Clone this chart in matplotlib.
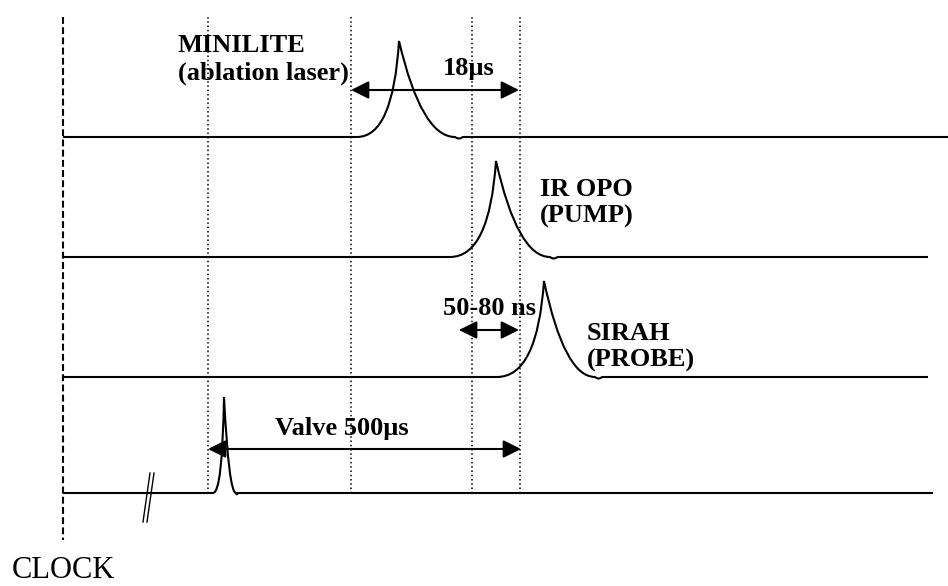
import matplotlib
matplotlib.use("Agg")
import matplotlib.pyplot as plt
from matplotlib.path import Path
from matplotlib.patches import PathPatch

# canvas is laid out in pixel units of the reference (948 x 586)
W, H = 948, 586

CHANNELS = ["MINILITE", "IR OPO", "SIRAH", "Valve"]
BASE_Y = [137, 257, 377, 493]
LINE_END = [948, 928, 928, 933]
PULSE_START = [357, 450, 497, 213]
PULSE_PEAK_X = [399, 496, 544, 224]
PULSE_PEAK_Y = [41, 161, 281, 397]
PULSE_END = [455, 550, 595, 236]

CLOCK_X = 63
MARKERS_X = [208, 351, 472, 520]

# double arrows: (start x, end x, y)
SPANS = [(351, 519, 90), (459, 519, 330), (208, 521, 449)]

LABELS = [
    ("MINILITE", 178, 52),
    ("(ablation laser)", 178, 80),
    ("18µs", 443, 75),
    ("IR OPO", 540, 196),
    ("(PUMP)", 540, 223),
    ("50-80 ns", 443, 315),
    ("SIRAH", 587, 340),
    ("(PROBE)", 587, 367),
    ("Valve 500µs", 275, 435),
]

plt.rcParams["font.family"] = ["Liberation Serif", "DejaVu Serif"]

fig = plt.figure(figsize=(W / 100, H / 100), dpi=100)
ax = fig.add_axes([0, 0, 1, 1])
ax.set_xlim(0, W)
ax.set_ylim(H, 0)
ax.axis("off")


def trace_path(base, x0, xp, yp, x1, x_end):
    rise = xp - x0
    fall = x1 - xp
    verts = [
        (CLOCK_X, base), (x0, base),
        (xp - 0.14 * rise, base), (xp, yp),
        (xp + 0.40 * fall, base), (x1, base),
        (x1 + 0.07 * fall, base + 3), (x1 + 0.14 * fall, base),
        (x_end, base),
    ]
    codes = [
        Path.MOVETO, Path.LINETO,
        Path.CURVE3, Path.CURVE3,
        Path.CURVE3, Path.CURVE3,
        Path.CURVE3, Path.CURVE3,
        Path.LINETO,
    ]
    return Path(verts, codes)


for i, name in enumerate(CHANNELS):
    p = trace_path(BASE_Y[i], PULSE_START[i], PULSE_PEAK_X[i],
                   PULSE_PEAK_Y[i], PULSE_END[i], LINE_END[i])
    ax.add_patch(PathPatch(p, facecolor="none", edgecolor="black",
                           lw=1.5, capstyle="butt"))

# clock reference
ax.plot([CLOCK_X, CLOCK_X], [17, 540], color="black", lw=1.5,
        linestyle=(0, (3.3, 1.6)))

# timing markers
for x in MARKERS_X:
    ax.plot([x, x], [17, BASE_Y[-1]], color="black", lw=1.1,
            linestyle=(0, (1, 1.8)))

# break mark on the valve trace
for dx in [0, 4]:
    ax.plot([143 + dx, 150 + dx], [522, 473], color="black", lw=1.0)

for x0, x1, y in SPANS:
    ax.annotate("", xy=(x1, y), xytext=(x0, y),
                arrowprops=dict(arrowstyle="<|-|>,head_length=0.9,head_width=0.45",
                                mutation_scale=12, lw=1.5, color="black",
                                shrinkA=0, shrinkB=0))

for txt, x, y in LABELS:
    ax.text(x, y, txt, fontsize=19, fontweight="bold", ha="left",
            va="baseline", color="black")

ax.text(12, 585, "CLOCK", fontsize=22, ha="left", va="bottom",
        color="black")

fig.savefig("out.png", dpi=100, facecolor="white")
